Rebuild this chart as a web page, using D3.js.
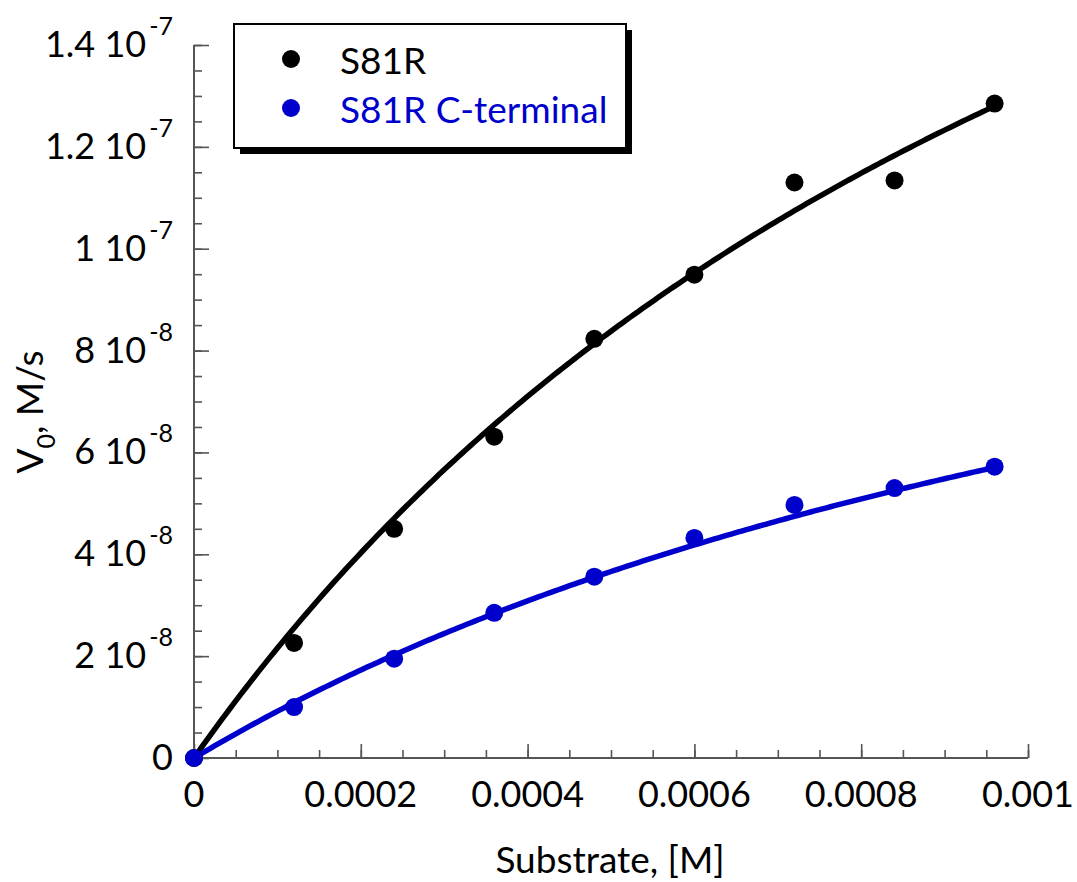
<!DOCTYPE html>
<html>
<head>
<meta charset="utf-8">
<script src="https://cdn.jsdelivr.net/npm/d3@7/dist/d3.min.js"></script>
<style>
  html, body { margin: 0; padding: 0; background: #fff; }
  svg { display: block; font-family: Lato, "Open Sans", sans-serif; }
</style>
</head>
<body>
<svg id="chart" width="1077" height="882"></svg>
<script>
// Substrate concentrations, M
const substrate = [0, 0.00012, 0.00024, 0.00036, 0.00048, 0.0006, 0.00072, 0.00084, 0.00096];
// Initial rates, M/s
const rateS81R = [0, 2.26e-8, 4.50e-8, 6.31e-8, 8.23e-8, 9.49e-8, 11.30e-8, 11.34e-8, 12.85e-8];
const rateS81RCterm = [0, 1.00e-8, 1.95e-8, 2.85e-8, 3.56e-8, 4.32e-8, 4.97e-8, 5.30e-8, 5.72e-8];

// Michaelis-Menten fit parameters [Vmax (M/s), Km (M)]
const fitS81R = [3.0e-7, 0.00129];
const fitS81RCterm = [1.45e-7, 0.00148];

const seriesNames = ["S81R", "S81R C-terminal"];
const seriesColors = ["#000000", "#0000cc"];

// Axis ticks
const xTickValues = [0, 0.0002, 0.0004, 0.0006, 0.0008, 0.001];
const xTickLabels = ["0", "0.0002", "0.0004", "0.0006", "0.0008", "0.001"];
const yTickValues = [0, 2e-8, 4e-8, 6e-8, 8e-8, 1e-7, 1.2e-7, 1.4e-7];
const yTickMantissa = ["0", "2 10", "4 10", "6 10", "8 10", "1 10", "1.2 10", "1.4 10"];
const yTickExponent = ["", "-8", "-8", "-8", "-8", "-7", "-7", "-7"];

const svg = d3.select("#chart");

const x = d3.scaleLinear().domain([0, 0.001]).range([194, 1028]);
const y = d3.scaleLinear().domain([0, 1.4e-7]).range([758, 45]);

const axisColor = "#555";

// Minor + major ticks, drawn inward
const xMinor = d3.range(0, 0.001 + 1e-9, 0.00005);
const yMinor = d3.range(0, 1.4e-7 + 1e-12, 0.5e-8);

const axes = svg.append("g");
const xAxisG = axes.append("g").attr("transform", `translate(0,${y(0)})`)
  .call(d3.axisBottom(x).tickValues(xMinor).tickSize(-8).tickFormat(""));
const xMajorG = axes.append("g").attr("transform", `translate(0,${y(0)})`)
  .call(d3.axisBottom(x).tickValues(xTickValues).tickSize(-14).tickFormat(""));
const yAxisG = axes.append("g").attr("transform", `translate(${x(0)},0)`)
  .call(d3.axisLeft(y).tickValues(yMinor).tickSize(-8).tickFormat(""));
const yMajorG = axes.append("g").attr("transform", `translate(${x(0)},0)`)
  .call(d3.axisLeft(y).tickValues(yTickValues).tickSize(-15).tickFormat(""));

axes.selectAll(".domain").attr("stroke", axisColor).attr("stroke-width", 2);
axes.selectAll(".tick line").attr("stroke", axisColor).attr("stroke-width", 1.6);
// Plain axis lines without end caps
xAxisG.select(".domain").attr("d", `M${x(0)},0H${x(0.001)}`);
xMajorG.select(".domain").remove();
yAxisG.select(".domain").attr("d", `M0,${y(0)}V${y(1.4e-7)}`);
yMajorG.select(".domain").remove();

// X tick labels
svg.append("g").selectAll("text").data(xTickValues).join("text")
  .attr("x", d => x(d)).attr("y", 807)
  .attr("text-anchor", "middle")
  .attr("font-size", 36).attr("fill", "#000")
  .text((d, i) => xTickLabels[i]);

// Y tick labels with power-of-ten superscripts
const yl = svg.append("g").selectAll("text").data(yTickValues).join("text")
  .attr("x", 173).attr("y", d => y(d) + 12)
  .attr("text-anchor", "end")
  .attr("font-size", 36).attr("fill", "#000");
yl.append("tspan").text((d, i) => yTickMantissa[i]);
yl.append("tspan")
  .attr("dx", (d, i) => yTickExponent[i] ? 3 : 0)
  .attr("dy", (d, i) => yTickExponent[i] ? -22 : 0)
  .attr("font-size", 25)
  .text((d, i) => yTickExponent[i]);

// Axis titles
svg.append("text")
  .attr("x", 610).attr("y", 873)
  .attr("text-anchor", "middle")
  .attr("font-size", 37).attr("fill", "#000")
  .text("Substrate, [M]");

const yt = svg.append("text")
  .attr("transform", "translate(43,412) rotate(-90)")
  .attr("text-anchor", "middle")
  .attr("font-size", 37).attr("fill", "#000");
yt.append("tspan").text("V");
yt.append("tspan").attr("dy", 12).attr("font-size", 25).text("0");
yt.append("tspan").attr("dy", -12).text(", M/s");

// Fitted curves
const fits = [fitS81R, fitS81RCterm];
const curveX = d3.range(0, 0.00096 + 1e-9, 0.00096 / 200);
const line = d3.line().x(d => x(d[0])).y(d => y(d[1]));
fits.forEach((p, i) => {
  const pts = curveX.map(s => [s, p[0] * s / (p[1] + s)]);
  svg.append("path").datum(pts)
    .attr("d", line)
    .attr("fill", "none")
    .attr("stroke", seriesColors[i])
    .attr("stroke-width", 5.5)
    .attr("stroke-linecap", "round");
});

// Data points
const rates = [rateS81R, rateS81RCterm];
rates.forEach((r, i) => {
  svg.append("g").selectAll("circle").data(substrate).join("circle")
    .attr("cx", d => x(d))
    .attr("cy", (d, j) => y(r[j]))
    .attr("r", 9)
    .attr("fill", seriesColors[i]);
});

// Legend with drop shadow
const lg = svg.append("g");
lg.append("rect").attr("x", 240).attr("y", 30).attr("width", 392).attr("height", 124).attr("fill", "#000");
lg.append("rect").attr("x", 234).attr("y", 24).attr("width", 392).attr("height", 124)
  .attr("fill", "#fff").attr("stroke", "#000").attr("stroke-width", 2);
seriesNames.forEach((name, i) => {
  const cy = 59 + i * 49;
  lg.append("circle").attr("cx", 291).attr("cy", cy).attr("r", 9).attr("fill", seriesColors[i]);
  lg.append("text").attr("x", 340).attr("y", cy + 15)
    .attr("font-size", 37).attr("fill", seriesColors[i]).text(name);
});
</script>
</body>
</html>
